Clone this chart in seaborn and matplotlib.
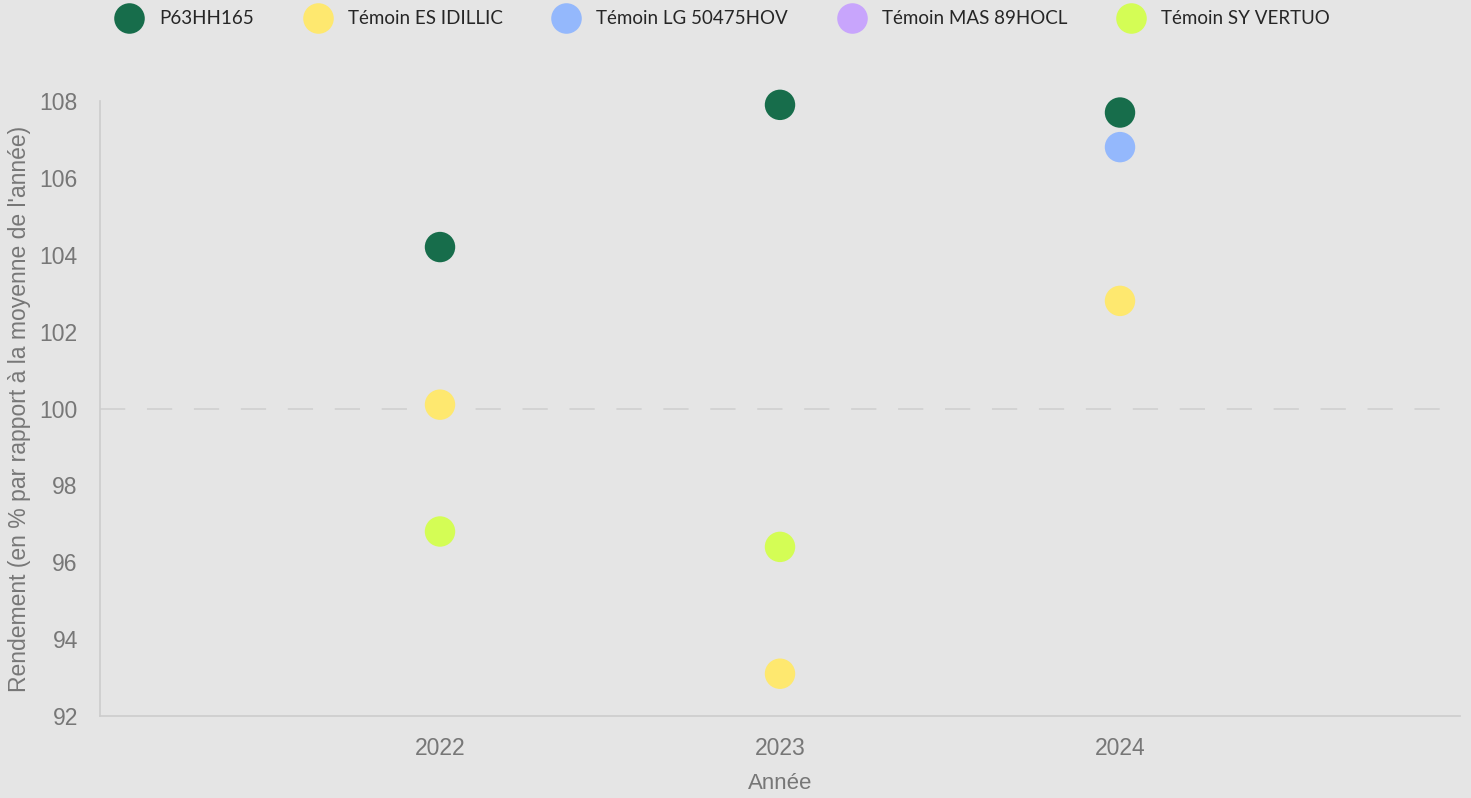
import matplotlib
matplotlib.use("Agg")
import matplotlib.pyplot as plt
from matplotlib.lines import Line2D
import seaborn as sns
import pandas as pd

years = ["2022", "2023", "2024"]
series = ["P63HH165", "Témoin ES IDILLIC", "Témoin LG 50475HOV", "Témoin MAS 89HOCL", "Témoin SY VERTUO"]
colors = ["#176d4b", "#fee86f", "#94b8fc", "#c8a5fc", "#d4fd55"]

p63 = [104.2, 107.9, 107.7]
es_idillic = [100.1, 93.1, 102.8]
lg_50475 = [None, None, 106.8]
mas_89 = [None, None, None]
sy_vertuo = [96.8, 96.4, None]

values = [p63, es_idillic, lg_50475, mas_89, sy_vertuo]
rows = []
for name, vals in zip(series, values):
    for y, v in zip(years, vals):
        if v is not None:
            rows.append({"Année": y, "Rendement": v, "Série": name})
df = pd.DataFrame(rows)

sns.set_theme(style="white")
plt.rcParams["font.family"] = ["Liberation Sans", "DejaVu Sans"]

fig = plt.figure(figsize=(14.71, 7.98), dpi=100, facecolor="#e5e5e5")
ax = fig.add_axes([100 / 1471, 1 - 716 / 798, 1360 / 1471, 615 / 798])
ax.set_facecolor("#e5e5e5")

ax.axhline(100, color="#d2d2d2", lw=1.3, dashes=(14, 12), zorder=1)

palette = dict(zip(series, colors))
sns.scatterplot(data=df, x="Année", y="Rendement", hue="Série", hue_order=series,
                palette=palette, s=480, edgecolor="none", linewidth=0, ax=ax,
                legend=False, zorder=3, clip_on=False)

ax.set_xlim(-1, 3)
ax.set_ylim(92, 108)
ax.set_yticks([92, 94, 96, 98, 100, 102, 104, 106, 108])
ax.set_xticks([0, 1, 2])
ax.set_xticklabels(years)
ax.tick_params(axis="both", labelsize=16.5, colors="#777777", length=0)
ax.tick_params(axis="y", pad=16)
ax.tick_params(axis="x", pad=15)
ax.set_xlabel("Année", fontsize=16, color="#777777")
ax.set_ylabel("Rendement (en % par rapport à la moyenne de l'année)", fontsize=16.5,
              color="#777777", labelpad=6)
ax.xaxis.set_label_coords(0.5, -0.109)
ax.xaxis.label.set_va("center")

for s in ["top", "right"]:
    ax.spines[s].set_visible(False)
for s in ["left", "bottom"]:
    ax.spines[s].set_color("#cccccc")
    ax.spines[s].set_linewidth(1.2)

handles = [Line2D([0], [0], marker="o", color="none", markerfacecolor=c,
                  markeredgecolor="none", markersize=22) for c in colors]
fig.legend(handles, series, loc="upper center", bbox_to_anchor=(0.4895, 1.008), ncol=5,
           frameon=False, handletextpad=0.6, columnspacing=2.4,
           prop={"family": ["Lato", "DejaVu Sans"], "size": 13.5})

fig.savefig("out.png", dpi=100, facecolor=fig.get_facecolor())
